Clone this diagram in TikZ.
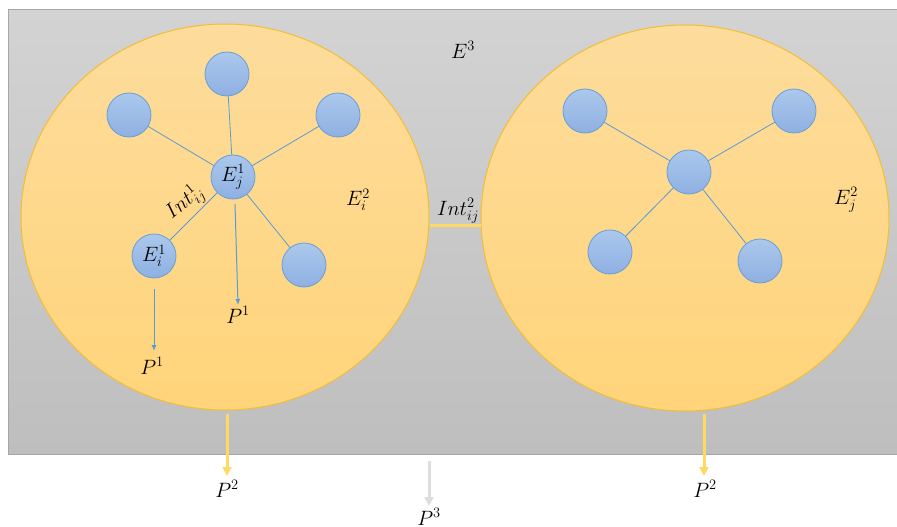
\documentclass[tikz,border=0pt]{standalone}
\usetikzlibrary{shapes.geometric,arrows.meta}
\definecolor{bgtop}{HTML}{D3D3D3}
\definecolor{bgbot}{HTML}{BEBEBE}
\definecolor{bgline}{HTML}{A6A6A6}
\definecolor{ytop}{HTML}{FDDC9C}
\definecolor{ybot}{HTML}{FFD47A}
\definecolor{yline}{HTML}{F4BE34}
\definecolor{btop}{HTML}{ABC8EC}
\definecolor{bbot}{HTML}{8EB0E2}
\definecolor{bline}{HTML}{6A9ED6}
\definecolor{link}{HTML}{5B9BD5}
\definecolor{yarrow}{HTML}{FFD966}
\definecolor{garrow}{HTML}{DDDDDD}
\tikzset{
  big/.style={ellipse, minimum width=408pt, minimum height=386pt, top color=ytop, bottom color=ybot, draw=yline, line width=1pt, inner sep=0pt},
  small/.style={circle, minimum size=44pt, inner sep=0pt, top color=btop, bottom color=bbot, draw=bline, line width=0.8pt},
  link/.style={draw=link, line width=0.8pt},
  blarrow/.style={draw=link, line width=1pt, -{Latex[length=6pt,width=5pt]}},
  yarr/.style={draw=yarrow, line width=3pt, -{Triangle[length=9pt,width=9pt]}},
  garr/.style={draw=garrow, line width=3pt, -{Triangle[length=9pt,width=9pt]}},
  lbl/.style={font=\fontsize{20}{24}\selectfont, inner sep=0pt}
}
\begin{document}
\begin{tikzpicture}[x=1pt,y=-1pt]
\useasboundingbox (0,0) rectangle (897,527);
\shade[top color=bgtop, bottom color=bgbot] (8,10) rectangle (897,454);
\draw[bgline, line width=1pt] (8,454) -- (8,10) -- (897,10);
\draw[bgline, line width=1pt] (8,454) -- (897,454);

\node[big] (L) at (225,217) {};
\node[big] (R) at (685,218) {};

% left cluster
\node[small] (ej) at (233,177) {};
\node[small] (lt) at (227,74) {};
\node[small] (lul) at (129,115) {};
\node[small] (lur) at (338,115) {};
\node[small] (ei) at (154,256) {};
\node[small] (llr) at (304,265) {};
\node[lbl] at (ej) {$E_j^1$};
\node[lbl] at (ei) {$E_i^1$};
\foreach \n in {lt,lul,lur,ei,llr} \draw[link] (ej) -- (\n);

% right cluster
\node[small] (rc) at (689,172) {};
\node[small] (rul) at (585,111) {};
\node[small] (rur) at (794,111) {};
\node[small] (rll) at (610,252) {};
\node[small] (rlr) at (760,261) {};
\foreach \n in {rul,rur,rll,rlr} \draw[link] (rc) -- (\n);

% labels
\node[lbl, rotate=40] (int1) at (185,203) {$Int_{ij}^1$};
\node[lbl] (ei2) at (358,200) {$E_i^2$};
\node[lbl] (ej2) at (846,200) {$E_j^2$};
\node[lbl] (e3) at (463,50) {$E^3$};
\node[lbl] (int2) at (458,211) {$Int_{ij}^2$};
\draw[yarrow, line width=3pt] (L.east |- 0,225) -- (R.west |- 0,225);

% P1 arrows
\coordinate (a1s) at (154,289);
\node[lbl] (p1a) at (152,366) {$P^1$};
\draw[blarrow] (a1s) -- (154,351);
\coordinate (a2s) at (235,204);
\node[lbl] (p1b) at (238,315) {$P^1$};
\draw[blarrow] (a2s) -- (238,305);

% P2, P3 arrows
\node[lbl] (p2a) at (227,489) {$P^2$};
\node[lbl] (p2b) at (705,489) {$P^2$};
\node[lbl] (p3) at (429,517) {$P^3$};
\draw[yarr] (227,414) -- (227,476);
\draw[yarr] (704,414) -- (704,476);
\draw[garr] (429,461) -- (429,506);
\end{tikzpicture}
\end{document}
